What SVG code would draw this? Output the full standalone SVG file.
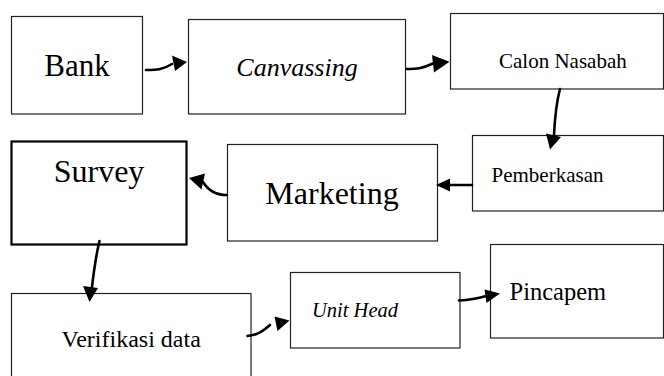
<svg xmlns="http://www.w3.org/2000/svg" width="664" height="376" viewBox="0 0 664 376">
<style>
.box{fill:#fff;stroke:#222;stroke-width:1.2}
.thick{fill:#fff;stroke:#000;stroke-width:2.2}
text{font-family:"Liberation Serif","Times New Roman",serif;fill:#000}
.it{font-style:italic}
.ln{fill:none;stroke:#000;stroke-width:2.6;stroke-linecap:round}
.hd{fill:#000;stroke:none}
</style>
<rect width="664" height="376" fill="#fff"/>
<g id="bank"><rect class="box" x="11.5" y="16.5" width="131" height="97.5"/><text x="77" y="76" font-size="31" text-anchor="middle">Bank</text></g>
<g id="canvassing"><rect class="box" x="188.5" y="19.5" width="217" height="94.5"/><text class="it" x="297" y="76" font-size="26" text-anchor="middle">Canvassing</text></g>
<g id="calon-nasabah"><rect class="box" x="450.5" y="13.5" width="213" height="75.5"/><text x="499" y="68" font-size="21">Calon Nasabah</text></g>
<g id="survey"><rect class="thick" x="11.5" y="141.5" width="175" height="103"/><text x="99" y="182" font-size="32" text-anchor="middle">Survey</text></g>
<g id="marketing"><rect class="box" x="227.5" y="144.5" width="210" height="96.5"/><text x="332" y="204" font-size="32" text-anchor="middle">Marketing</text></g>
<g id="pemberkasan"><rect class="box" x="472.5" y="135.5" width="191" height="75.5"/><text x="491.5" y="182" font-size="21">Pemberkasan</text></g>
<g id="verifikasi-data"><rect class="box" x="11.5" y="293.5" width="239.5" height="90"/><text x="61.5" y="347" font-size="24">Verifikasi data</text></g>
<g id="unit-head"><rect class="box" x="290.5" y="272.5" width="169.5" height="75.5"/><text class="it" x="312" y="317" font-size="20.5">Unit Head</text></g>
<g id="pincapem"><rect class="box" x="490.5" y="244.5" width="173" height="93.5"/><text x="509.5" y="300" font-size="24.5">Pincapem</text></g>
<g id="connectors">
<path class="ln" d="M146,70 C157,70 162,70 172,64"/>
<polygon class="hd" points="187,62 172,55.5 175,71"/>
<path class="ln" d="M406.5,69 C418,69 423,68 433,63.5"/>
<polygon class="hd" points="449.5,61.7 432,55 434,72.5"/>
<path class="ln" d="M560,89 C557,100 555,115 554,135"/>
<polygon class="hd" points="550,149.5 546,133.5 561,137"/>
<path class="ln" d="M472,185 L450,185"/>
<polygon class="hd" points="436,185 450,178.5 450,191.5"/>
<path class="ln" d="M226.5,195 C215,195 208,190 203,182"/>
<polygon class="hd" points="189,178 205,173.5 201.5,189.5"/>
<path class="ln" d="M99.5,241 C96,255 94,270 92,287"/>
<polygon class="hd" points="89.5,302 83,286 98,288"/>
<path class="ln" d="M247.5,336 C258,335 263,331 270,325"/>
<polygon class="hd" points="289.5,320.5 274.5,316.5 277.5,331"/>
<path class="ln" d="M459,300.5 C470,300 476,299 486,296"/>
<polygon class="hd" points="500,293.5 484.5,289.5 486.5,303"/>
</g>
</svg>
